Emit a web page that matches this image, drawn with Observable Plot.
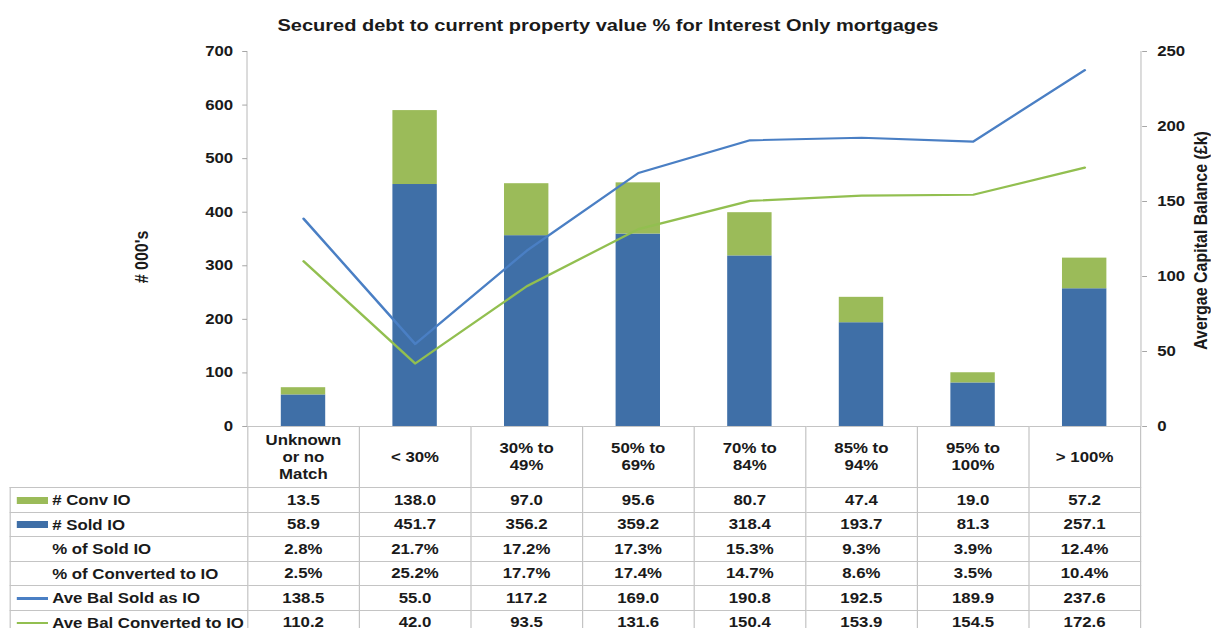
<!DOCTYPE html>
<html>
<head>
<meta charset="utf-8">
<script src="https://cdn.jsdelivr.net/npm/d3@7"></script>
<script src="https://cdn.jsdelivr.net/npm/@observablehq/plot@0.6"></script>
<style>
html, body { margin: 0; padding: 0; background: #fff; overflow: hidden; }
#stage { position: relative; width: 1009.17px; height: 628px; overflow: hidden;
  transform: scaleX(1.2); transform-origin: 0 0;
  font-family: "Liberation Sans", Arial, sans-serif; color: #1a1a1a; }
#title { position: absolute; left: 0; top: 16px; width: 100%; box-sizing: border-box; padding-left: 4px;
  text-align: center; font-weight: bold; font-size: 16.7px; line-height: 20px; white-space: nowrap; }
#chart { position: absolute; left: 0; top: 40px; }
#chart svg { overflow: visible; }
#chart svg text { font-weight: bold; fill: #1a1a1a; }
#tbl { position: absolute; top: 426px; left: 8.33px; border-collapse: collapse; table-layout: fixed;
  font-weight: bold; font-size: 14px; color: #1a1a1a; }
#tbl td { border: 1px solid #c4c4c4; padding: 0; text-align: center; vertical-align: middle; overflow: hidden; white-space: nowrap; }
#tbl tr.head td { height: 60px; white-space: pre-line; line-height: 17px; }
#tbl tr.head td.blank { border: none; }
#tbl tr.row td { height: 23.5px; line-height: 16px; }
#tbl td.lab { text-align: left; }
.sw { display: inline-block; width: 26.7px; margin-left: 4.2px; margin-right: 3.3px; vertical-align: middle; }
</style>
</head>
<body>
<div id="stage">
  <div id="title"></div>
  <div id="chart"></div>
</div>
<script>
// ---- data ----
const titleText = "Secured debt to current property value % for Interest Only mortgages";
const categories = ["Unknown\nor no\nMatch", "< 30%", "30% to\n49%", "50% to\n69%", "70% to\n84%", "85% to\n94%", "95% to\n100%", "> 100%"];
const convIO = [13.5, 138.0, 97.0, 95.6, 80.7, 47.4, 19.0, 57.2];
const soldIO = [58.9, 451.7, 356.2, 359.2, 318.4, 193.7, 81.3, 257.1];
const pctSoldIO = [2.8, 21.7, 17.2, 17.3, 15.3, 9.3, 3.9, 12.4];
const pctConvIO = [2.5, 25.2, 17.7, 17.4, 14.7, 8.6, 3.5, 10.4];
const aveBalSold = [138.5, 55.0, 117.2, 169.0, 190.8, 192.5, 189.9, 237.6];
const aveBalConv = [110.2, 42.0, 93.5, 131.6, 150.4, 153.9, 154.5, 172.6];
const leftTicks = [0, 100, 200, 300, 400, 500, 600, 700];
const rightTicks = [0, 50, 100, 150, 200, 250];
const leftLabel = "# 000's";
const rightLabel = "Avergae Capital Balance (£k)";
const seriesNames = ["# Sold IO", "# Conv IO"];
const rowLabels = ["# Conv IO", "# Sold IO", "% of Sold IO", "% of Converted to IO", "Ave Bal Sold as IO", "Ave Bal Converted to IO"];

// ---- styles ----
const BLUE = "#3f6fa7", GREEN = "#9bbb59", BLUE_LINE = "#4a7fc4", GREEN_LINE = "#92bf50";
const SX = 1.2;
const W = 1211 / SX;
const mL = 247 / SX, mR = W - 1141 / SX;
const leftMax = leftTicks[leftTicks.length - 1], rightMax = rightTicks[rightTicks.length - 1];
const k = leftMax / rightMax;

document.getElementById("title").textContent = titleText;

const stacked = [
  ...categories.map((c, i) => ({cat: c, series: seriesNames[0], value: soldIO[i]})),
  ...categories.map((c, i) => ({cat: c, series: seriesNames[1], value: convIO[i]}))
];
const lines = categories.map((c, i) => ({cat: c, bs: aveBalSold[i], bc: aveBalConv[i]}));

function axisLines(index, scales, values, dims) {
  const {marginLeft: l, marginRight: r, marginTop: t, marginBottom: b, width: w, height: h} = dims;
  const g = d3.create("svg:g").attr("stroke", "#c4c4c4").attr("stroke-width", 1);
  g.append("line").attr("x1", l).attr("x2", l).attr("y1", t).attr("y2", h - b);
  g.append("line").attr("x1", w - r).attr("x2", w - r).attr("y1", t).attr("y2", h - b);
  return g.node();
}

const chart = Plot.plot({
  width: W, height: 400,
  marginTop: 11, marginBottom: 14, marginLeft: mL, marginRight: mR,
  style: {fontFamily: "Liberation Sans, Arial, sans-serif", background: "transparent"},
  x: {domain: categories, paddingInner: 0.6, paddingOuter: 0.3, axis: null},
  y: {domain: [0, leftMax], axis: null},
  color: {domain: seriesNames, range: [BLUE, GREEN]},
  marks: [
    axisLines,
    Plot.barY(stacked, {x: "cat", y: "value", fill: "series"}),
    Plot.lineY(lines, {x: "cat", y: d => d.bs * k, stroke: BLUE_LINE, strokeWidth: 2.2}),
    Plot.lineY(lines, {x: "cat", y: d => d.bc * k, stroke: GREEN_LINE, strokeWidth: 2.2}),
    Plot.axisY({anchor: "left", ticks: leftTicks, tickSize: 4, tickPadding: 8, fontSize: 14, stroke: "#a6a6a6", fill: "#1a1a1a", label: null}),
    Plot.axisY({anchor: "right", ticks: rightTicks.map(v => v * k), tickFormat: d => String(Math.round(d / k)), tickSize: 4, tickPadding: 9, fontSize: 14, stroke: "#a6a6a6", fill: "#1a1a1a", label: null}),
    Plot.text([leftLabel], {text: d => d, frameAnchor: "left", textAnchor: "middle", dx: -88, dy: 18, rotate: -90, fontSize: 16, fill: "#1a1a1a"}),
    Plot.text([rightLabel], {text: d => d, frameAnchor: "right", textAnchor: "middle", dx: 49, dy: 1.5, rotate: -90, fontSize: 16, fill: "#1a1a1a"})
  ]
});
document.getElementById("chart").appendChild(chart);

// ---- data table ----
const xs = chart.scale("x");
const step = xs && xs.step ? xs.step : (W - mL - mR) / categories.length;
const firstW = mL - 8.33;
const f1 = v => v.toFixed(1);
const fp = v => v.toFixed(1) + "%";
const tableRows = [
  {label: rowLabels[0], sw: "bar", color: GREEN, vals: convIO.map(f1)},
  {label: rowLabels[1], sw: "bar", color: BLUE, vals: soldIO.map(f1)},
  {label: rowLabels[2], sw: null, vals: pctSoldIO.map(fp)},
  {label: rowLabels[3], sw: null, vals: pctConvIO.map(fp)},
  {label: rowLabels[4], sw: "line", color: BLUE_LINE, vals: aveBalSold.map(f1)},
  {label: rowLabels[5], sw: "line", color: GREEN_LINE, vals: aveBalConv.map(f1)}
];
const tbl = d3.select("#stage").append("table").attr("id", "tbl");
const cg = tbl.append("colgroup");
cg.append("col").style("width", firstW + "px");
categories.forEach(() => cg.append("col").style("width", step + "px"));
tbl.style("width", (firstW + step * categories.length) + "px");
const head = tbl.append("tr").attr("class", "head");
head.append("td").attr("class", "blank");
categories.forEach(c => head.append("td").text(c));
tableRows.forEach(r => {
  const tr = tbl.append("tr").attr("class", "row");
  const lab = tr.append("td").attr("class", "lab");
  const sw = lab.append("span").attr("class", "sw");
  if (r.sw === "bar") sw.style("height", "7px").style("background", r.color);
  else if (r.sw === "line") sw.style("height", "2.5px").style("background", r.color);
  else sw.style("height", "1px");
  lab.append("span").text(r.label).style("vertical-align", "middle");
  r.vals.forEach(v => tr.append("td").text(v));
});
</script>
</body>
</html>
